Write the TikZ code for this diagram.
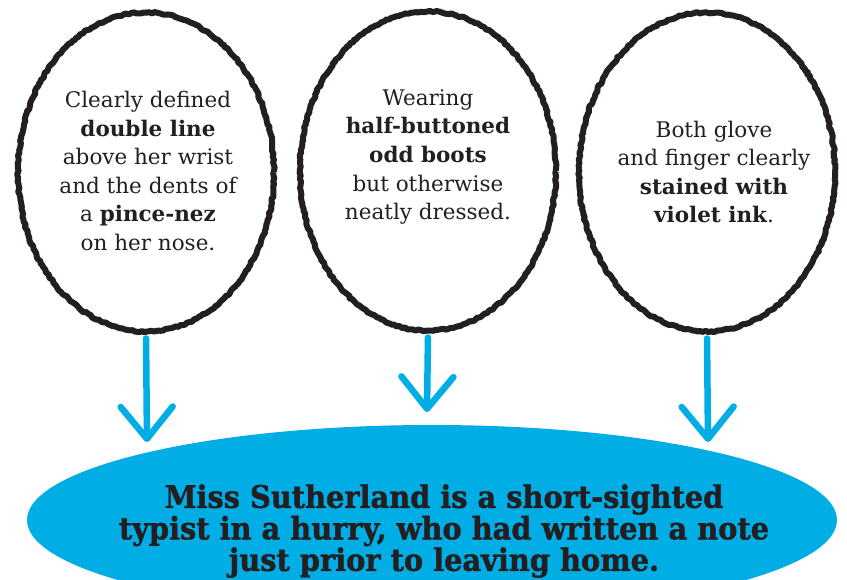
\documentclass[tikz,border=0pt]{standalone}
\usepackage{fontspec}
\setmainfont{DejaVu Serif}
\newfontfamily\condfont{DejaVu Serif}[FakeStretch=0.93,FakeBold=1.3]
\usetikzlibrary{shapes.geometric,decorations.pathmorphing,arrows.meta}
\definecolor{skyblue}{RGB}{0,173,228}
\definecolor{ink}{RGB}{35,31,32}
\begin{document}
\begin{tikzpicture}[x=1pt,y=-1pt,
  bubble/.style={ellipse, draw=ink, line width=6pt, line join=round, fill=white,
    minimum width=256pt, minimum height=319pt, inner sep=0pt,
    decorate, decoration={random steps, segment length=2.5pt, amplitude=0.9pt}},
  bubbletext/.style={align=center, text=ink, font=\fontsize{21.5}{28.6}\selectfont},
  result/.style={ellipse, fill=skyblue, minimum width=810pt, minimum height=190pt, inner sep=0pt},
  resulttext/.style={align=center, text=ink, font=\condfont\bfseries\fontsize{31}{31.5}\selectfont},
  flow/.style={draw=skyblue, line width=6.5pt, line cap=round, shorten <=4pt,
    -{Straight Barb[length=32pt, width=52pt, round]}}
]
\useasboundingbox (0,0) rectangle (847,579);
\fill[white] (0,0) rectangle (847,579);

\begin{scope}
  \clip (0,0) rectangle (847,579);
  \node[result] (b) at (432,520) {};
\end{scope}
\node[resulttext] (bt) at (444,531) {Miss Sutherland is a short-sighted\\typist in a hurry, who had written a note\\just prior to leaving home.};

\node[bubble] (e1) at (146,172) {};
\node[bubble] (e2) at (428,171) {};
\node[bubble] (e3) at (707,172) {};

\node[bubbletext] (t1) at (148,171) {Clearly defined\\\textbf{double line}\\above her wrist\\and the dents of\\a \textbf{pince-nez}\\on her nose.};
\node[bubbletext] (t2) at (428,157) {Wearing\\\textbf{half-buttoned}\\\textbf{odd boots}\\but otherwise\\neatly dressed.};
\node[bubbletext] (t3) at (714,172) {Both glove\\and finger clearly\\\textbf{stained with}\\\textbf{violet ink}.};

\coordinate (a1) at (147,442);
\coordinate (a2) at (427,412);
\coordinate (a3) at (708,442);
\draw[flow] (e1.south) -- (a1);
\draw[flow] (e2.south) -- (a2);
\draw[flow] (e3.south) -- (a3);
\end{tikzpicture}
\end{document}
